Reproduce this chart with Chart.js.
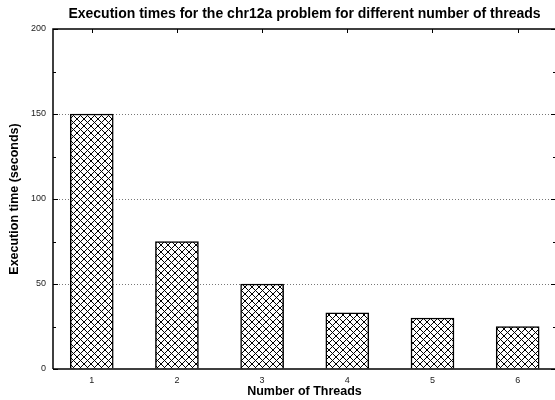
<!DOCTYPE html>
<html>
<head>
<meta charset="utf-8">
<script src="https://cdn.jsdelivr.net/npm/chart.js@4.4.0/dist/chart.umd.min.js"></script>
<style>
  html, body { margin: 0; padding: 0; overflow: hidden; background: #fff; }
  canvas { display: block; }
</style>
</head>
<body>
<canvas id="myChart" width="557" height="400"></canvas>
<script>
const threads = [1, 2, 3, 4, 5, 6];
const tickLabels = ['1', '2', '3', '4', '5', '6'];
const execTimes = [150, 75, 50, 33, 30, 25];
const yTicks = [0, 50, 100, 150, 200];
const yMinor = [25, 75, 125, 175];

// crosshatch fill like gnuplot pattern
const makeHatch = () => {
  const c = document.createElement('canvas');
  c.width = 7; c.height = 7;
  const g = c.getContext('2d');
  g.fillStyle = '#fff';
  g.fillRect(0, 0, 7, 7);
  g.strokeStyle = '#000';
  g.lineWidth = 1;
  g.beginPath();
  g.moveTo(0, 0); g.lineTo(7, 7);
  g.moveTo(7, 0); g.lineTo(0, 7);
  g.stroke();
  return g.createPattern(c, 'repeat');
};

const frame = {
  id: 'frame',
  afterDraw(chart) {
    const { ctx, chartArea: a, scales } = chart;
    ctx.save();
    ctx.strokeStyle = '#000';
    ctx.lineWidth = 1.5;
    ctx.beginPath();
    ctx.moveTo(a.left, a.bottom); ctx.lineTo(a.left, a.top); ctx.lineTo(a.right, a.top);
    ctx.moveTo(a.left, a.bottom); ctx.lineTo(a.right, a.bottom);
    ctx.lineTo(a.right, a.top);
    ctx.stroke();
    ctx.lineWidth = 1;
    ctx.beginPath();
    yTicks.forEach(v => {
      const y = Math.round(scales.y.getPixelForValue(v)) + 0.5;
      ctx.moveTo(a.left, y); ctx.lineTo(a.left + 5, y);
      ctx.moveTo(a.right, y); ctx.lineTo(a.right - 5, y);
    });
    yMinor.forEach(v => {
      const y = Math.round(scales.y.getPixelForValue(v)) + 0.5;
      ctx.moveTo(a.left, y); ctx.lineTo(a.left + 3, y);
      ctx.moveTo(a.right, y); ctx.lineTo(a.right - 3, y);
    });
    threads.forEach(v => {
      const x = Math.round(scales.x.getPixelForValue(v)) + 0.5;
      ctx.moveTo(x, a.top); ctx.lineTo(x, a.top + 4);
    });
    ctx.stroke();
    ctx.restore();
  }
};

new Chart(document.getElementById('myChart'), {
  type: 'bar',
  data: {
    datasets: [{
      data: threads.map((t, i) => ({ x: t, y: execTimes[i] })),
      backgroundColor: makeHatch(),
      borderColor: '#000',
      borderWidth: 1.5,
      barThickness: 43
    }]
  },
  options: {
    responsive: false,
    animation: false,
    devicePixelRatio: 1,
    layout: { padding: { left: 0, right: 1, top: 0, bottom: 0 } },
    plugins: {
      legend: { display: false },
      tooltip: { enabled: false },
      title: {
        display: true,
        fullSize: false,
        text: 'Execution times for the chr12a problem for different number of threads',
        color: '#000',
        font: { family: 'Liberation Sans', size: 14, weight: 'bold' },
        padding: { top: 6, bottom: 6.2 }
      }
    },
    scales: {
      x: {
        type: 'linear',
        offset: false,
        min: 0.545,
        max: 6.45,
        afterBuildTicks: s => { s.ticks = threads.map(v => ({ value: v })); },
        afterFit: s => { s.height = 31; },
        grid: { display: false, drawTicks: false },
        border: { display: false },
        ticks: {
          padding: 6,
          color: '#222',
          font: { family: 'Liberation Sans', size: 9 },
          callback: v => tickLabels[threads.indexOf(v)]
        },
        title: {
          display: true,
          text: 'Number of Threads',
          color: '#000',
          font: { family: 'Liberation Sans', size: 12.5, weight: 'bold' },
          padding: { top: 0, bottom: 0.5 }
        }
      },
      y: {
        min: 0,
        max: 200,
        afterBuildTicks: s => { s.ticks = yTicks.map(v => ({ value: v })); },
        afterFit: s => { s.width = 53; },
        border: { display: false, dash: [1, 2] },
        grid: {
          drawTicks: false,
          color: c => (c.tick && (c.tick.value === 0 || c.tick.value === 200)) ? 'rgba(0,0,0,0)' : '#777',
          lineWidth: 1
        },
        ticks: {
          padding: 7,
          color: '#222',
          font: { family: 'Liberation Sans', size: 9 }
        },
        title: {
          display: true,
          text: 'Execution time (seconds)',
          color: '#000',
          font: { family: 'Liberation Sans', size: 12.5, weight: 'bold' },
          padding: { top: 7.5, bottom: 0 }
        }
      }
    }
  },
  plugins: [frame]
});
</script>
</body>
</html>
